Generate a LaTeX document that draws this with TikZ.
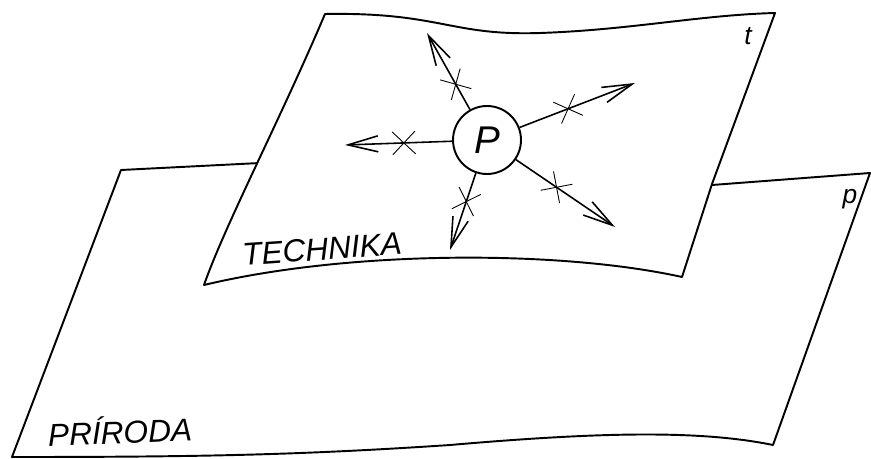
\documentclass[tikz,border=0pt]{standalone}
\usepackage{fontspec}
\setmainfont{Liberation Sans}
\usetikzlibrary{arrows.meta,shapes.misc}

\begin{document}
\begin{tikzpicture}[
    x=0.02cm, y=-0.02cm,
    plane/.style={draw=black, line width=1.1pt, fill=white, line join=round},
    label/.style={font=\itshape\fontsize{18}{20}\selectfont, inner sep=0pt},
    letter/.style={font=\itshape\fontsize{15}{16}\selectfont, inner sep=0pt},
    center/.style={circle, draw=black, line width=1.1pt, minimum size=1.36cm, inner sep=0pt, font=\itshape\fontsize{22}{24}\selectfont},
    link/.style={line width=0.9pt, -{Straight Barb[length=6mm,width=3.2mm]}},
    xmark/.style={cross out, draw=black, line width=0.5pt, minimum size=0.44cm, inner sep=0pt, sloped, pos=#1}
]
\useasboundingbox (0,0) rectangle (871,459);

% plane p (priroda)
\draw[plane] (121,170) -- (260,163) -- (712,185) -- (870,173) -- (773,445)
    .. controls (700,430) and (600,432) .. (450,445)
    .. controls (300,455) and (200,457) .. (12,457) -- cycle;

% plane t (technika)
\draw[plane] (325,14) .. controls (440,12) and (450,36) .. (540,33)
    .. controls (630,30) and (700,15) .. (775,13)
    -- (712,184) -- (682,277)
    .. controls (560,250) and (350,250) .. (204,285)
    .. controls (225,225) and (280,120) .. (325,14) -- cycle;

\node[letter] (t) at (748,36) {t};
\node[letter] (p) at (850,199) {p};
\node[label, rotate=4] (technika) at (322,249) {TECHNIKA};
\node[label, rotate=2] (priroda) at (120,430) {PRÍRODA};

% P and its links
\node[center] (P) at (487,140) {P};
\coordinate (up) at (427,33);
\coordinate (left) at (345,145);
\coordinate (upright) at (635,83);
\coordinate (downright) at (615,227);
\coordinate (down) at (450,250);

\draw[link] (P) -- node[xmark=0.33] (x1) {} (up);
\draw[link] (P) -- node[xmark=0.45] (x2) {} (left);
\draw[link] (P) -- node[xmark=0.42] (x3) {} (upright);
\draw[link] (P) -- node[xmark=0.41] (x4) {} (downright);
\draw[link] (P) -- node[xmark=0.37] (x5) {} (down);
\end{tikzpicture}
\end{document}
